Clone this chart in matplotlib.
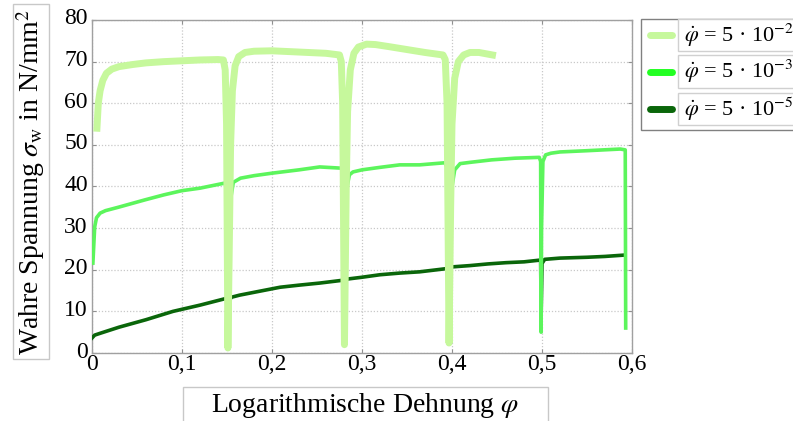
import matplotlib
matplotlib.use("Agg")
import matplotlib.pyplot as plt
import matplotlib.transforms as mtransforms
from matplotlib.patches import Rectangle
from matplotlib.lines import Line2D

plt.rcParams['font.family'] = ['Liberation Serif', 'DejaVu Serif']
plt.rcParams['mathtext.fontset'] = 'stix'

# ---------------- data ----------------
light_x = [0.0055, 0.007, 0.009, 0.012, 0.016, 0.022, 0.03, 0.045, 0.06, 0.08, 0.1, 0.12, 0.14,
           0.146, 0.148, 0.1495, 0.151, 0.1525, 0.154, 0.156, 0.159, 0.163, 0.17, 0.18, 0.2, 0.22,
           0.24, 0.26, 0.275, 0.277, 0.2785, 0.2805, 0.2825, 0.284, 0.287, 0.291, 0.296, 0.305,
           0.315, 0.33, 0.35, 0.37, 0.39, 0.3925, 0.3945, 0.3967, 0.3985, 0.4, 0.403, 0.407,
           0.413, 0.42, 0.43, 0.445]
light_y = [54, 60, 63, 65.5, 67.2, 68.2, 68.8, 69.3, 69.7, 70, 70.2, 70.4, 70.5,
           70.4, 68, 55, 1.2, 25, 50, 63, 69, 71.2, 72.2, 72.5, 72.6, 72.4,
           72.2, 72, 71.6, 70, 60, 2, 40, 58, 68, 72, 73.5, 74.2,
           74.1, 73.6, 72.9, 72.2, 71.6, 70.5, 60, 2.4, 35, 55, 66, 70,
           71.6, 72.2, 72.2, 71.6]

medium_x = [0.001, 0.002, 0.003, 0.005, 0.009, 0.015, 0.029, 0.059, 0.08, 0.1, 0.12, 0.147,
            0.1495, 0.151, 0.1525, 0.154, 0.157, 0.165, 0.18, 0.2, 0.23, 0.253, 0.2775, 0.279,
            0.2805, 0.282, 0.2835, 0.286, 0.29, 0.3, 0.32, 0.342, 0.364, 0.392, 0.395, 0.3967,
            0.3985, 0.4, 0.403, 0.409, 0.42, 0.444, 0.47, 0.497, 0.4985, 0.499, 0.4995, 0.501,
            0.504, 0.51, 0.52, 0.55, 0.587, 0.5925, 0.593]
medium_y = [21.6, 26, 30.3, 32.5, 33.6, 34.2, 35, 36.8, 38, 39, 39.6, 40.8,
            40, 3, 25, 37, 41, 42, 42.6, 43.2, 44, 44.7, 44.4, 43,
            3, 30, 40, 42.8, 43.5, 44, 44.6, 45.2, 45.2, 45.7, 44.5, 3,
            30, 40, 44, 45.5, 45.8, 46.4, 46.8, 47, 46, 5, 30, 46,
            47.6, 48, 48.3, 48.6, 49, 48.8, 6]

dark_x = [0.0, 0.003, 0.01, 0.03, 0.06, 0.09, 0.12, 0.147, 0.1505, 0.1512, 0.152, 0.155, 0.164,
          0.19, 0.209, 0.23, 0.253, 0.2795, 0.2805, 0.281, 0.282, 0.285, 0.3, 0.32, 0.342, 0.364,
          0.395, 0.3965, 0.397, 0.398, 0.401, 0.42, 0.44, 0.46, 0.48, 0.497, 0.4985, 0.499,
          0.5, 0.503, 0.52, 0.55, 0.57, 0.59]
dark_y = [3.6, 4.3, 4.8, 6.2, 8, 10, 11.5, 13, 13.2, 9.6, 12.5, 13.4, 13.9,
          15, 15.8, 16.3, 16.8, 17.5, 14.6, 16.5, 17.6, 17.8, 18.2, 18.8, 19.2, 19.5,
          20.3, 15.9, 19.5, 20.5, 20.7, 21, 21.4, 21.7, 21.9, 22.3, 22.3, 8.5,
          21.5, 22.5, 22.8, 23, 23.2, 23.5]

xticks = [0, 0.1, 0.2, 0.3, 0.4, 0.5, 0.6]
xticklabels = ['0', '0,1', '0,2', '0,3', '0,4', '0,5', '0,6']
yticks = [0, 10, 20, 30, 40, 50, 60, 70, 80]

labels = [r'$\dot{\varphi}$ = 5 · 10$^{-2}$',
          r'$\dot{\varphi}$ = 5 · 10$^{-3}$',
          r'$\dot{\varphi}$ = 5 · 10$^{-5}$']
colors = ['#c6f89c', '#5cf55c', '#0a660a']
legend_colors = ['#c6f89c', '#22ff22', '#0a660a']

# ---------------- figure ----------------
W, H = 793, 421
fig = plt.figure(figsize=(W / 100, H / 100), dpi=100)


def fx(x):
    return x / W


def fy(y):
    return 1 - y / H


ax = fig.add_axes([fx(92), fy(353), (632 - 92) / W, (353 - 20) / H])

ax.plot(dark_x, dark_y, color=colors[2], lw=2.6, zorder=3, solid_joinstyle='round')
ax.plot(medium_x, medium_y, color=colors[1], lw=2.6, zorder=4, solid_joinstyle='round')
ax.plot(light_x, light_y, color=colors[0], lw=5.0, zorder=5, solid_joinstyle='round')

ax.set_xlim(0, 0.6)
ax.set_ylim(0, 80)
ax.set_xticks(xticks)
ax.set_xticklabels(xticklabels)
ax.set_yticks(yticks)
ax.set_yticklabels([str(v) for v in yticks])
ax.grid(True, linestyle=(0, (1, 1.5)), color='#c8c8c8', linewidth=0.9)
ax.tick_params(direction='in', length=3, width=0.8, color='#909090',
               top=True, right=True, labelsize=17, pad=1)
ax.tick_params(axis='y', pad=3)
offset = mtransforms.ScaledTranslation(0, 3.5 / 100, fig.dpi_scale_trans)
for t in ax.get_yticklabels():
    t.set_transform(t.get_transform() + offset)
for s in ax.spines.values():
    s.set_color('#a0a0a0')
    s.set_linewidth(1.0)

# y label box
fig.patches.append(Rectangle((fx(13), fy(359)), (49 - 13) / W, (359 - 4) / H,
                             transform=fig.transFigure, facecolor='white',
                             edgecolor='#c8c8c8', lw=1.0))
fig.text(fx(31), fy(182), r'Wahre Spannung $\sigma_{\rm w}$ in N/mm$^2$',
         rotation=90, ha='center', va='center', fontsize=20)

# x label box
fig.patches.append(Rectangle((fx(183), fy(425)), (548 - 183) / W, (425 - 387) / H,
                             transform=fig.transFigure, facecolor='white',
                             edgecolor='#c8c8c8', lw=1.0))
fig.text(fx(365), fy(405), r'Logarithmische Dehnung $\varphi$',
         ha='center', va='center', fontsize=20)

# legend
fig.patches.append(Rectangle((fx(641), fy(130)), (800 - 641) / W, (130 - 19) / H,
                             transform=fig.transFigure, facecolor='white',
                             edgecolor='#808080', lw=1.0))
box_tops = [19, 55, 93]
box_bots = [51, 88, 125]
for i in range(3):
    yc = (box_tops[i] + box_bots[i]) / 2
    fig.patches.append(Rectangle((fx(678), fy(box_bots[i])), (800 - 678) / W,
                                 (box_bots[i] - box_tops[i]) / H,
                                 transform=fig.transFigure, facecolor='white',
                                 edgecolor='#d0d0d0', lw=1.0))
    fig.lines.append(Line2D([fx(650), fx(672)], [fy(yc), fy(yc)],
                            transform=fig.transFigure, color=legend_colors[i],
                            lw=5, solid_capstyle='round'))
    fig.text(fx(684), fy(yc), labels[i], ha='left', va='center', fontsize=16)

fig.savefig('out.png', dpi=100)
